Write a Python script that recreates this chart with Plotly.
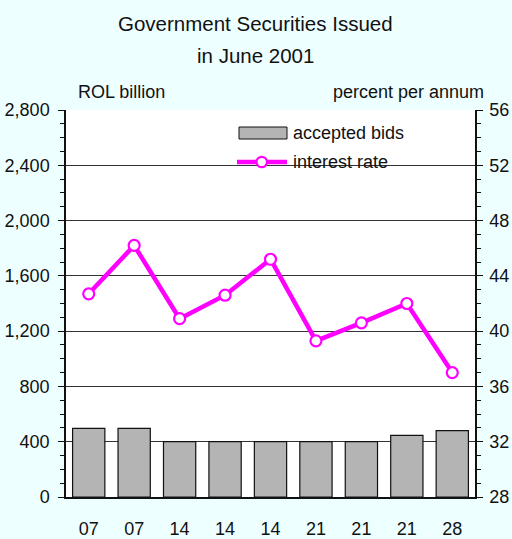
import plotly.graph_objects as go

# Auction dates (day of June 2001) for each issue
dates = ["07", "07", "14", "14", "14", "21", "21", "21", "28"]
# Accepted bids, ROL billion
accepted_bids = [497, 497, 400, 400, 400, 400, 400, 446, 480]
# Average interest rate, percent per annum
interest_rate = [42.7, 46.2, 40.9, 42.6, 45.2, 39.3, 40.6, 42.0, 37.0]

FONT = "Liberation Sans, Arial, sans-serif"
INK = "#111111"
MAGENTA = "#FF00FF"
BAR_FILL = "#B4B4B4"

W, H = 512, 539
ML, MR, MT, MB = 66, 37, 110, 42
PH = H - MT - MB
PW = W - ML - MR


def py(ypix):
    """Vertical pixel position -> paper coordinate."""
    return (H - MB - ypix) / PH


def px(xpix):
    """Horizontal pixel position -> paper coordinate."""
    return (xpix - ML) / PW


xs = list(range(len(dates)))

fig = go.Figure()
fig.add_trace(go.Bar(
    x=xs, y=accepted_bids, name="accepted bids",
    marker=dict(color=BAR_FILL, line=dict(color=INK, width=1.2)),
    yaxis="y", showlegend=False,
))
fig.add_trace(go.Scatter(
    x=xs, y=interest_rate, name="interest rate", mode="lines+markers",
    line=dict(color=MAGENTA, width=4.5),
    marker=dict(symbol="circle", size=11, color="white",
                line=dict(color=MAGENTA, width=2.2)),
    yaxis="y2", showlegend=False,
))

# Legend box: white backdrop that hides the gridline behind it
shapes = [
    dict(type="rect", xref="paper", yref="paper",
         x0=px(197), x1=px(441), y0=py(186), y1=py(114),
         fillcolor="white", line=dict(width=0), layer="between"),
    # key for the bars
    dict(type="rect", xref="paper", yref="paper",
         x0=px(239), x1=px(287), y0=py(139), y1=py(127),
         fillcolor=BAR_FILL, line=dict(color=INK, width=1), layer="above"),
    # key for the line
    dict(type="line", xref="paper", yref="paper",
         x0=px(237), x1=px(287), y0=py(162), y1=py(162),
         line=dict(color=MAGENTA, width=4.5), layer="above"),
    dict(type="circle", xref="paper", yref="paper",
         x0=px(256.5), x1=px(267), y0=py(167.2), y1=py(156.8),
         fillcolor="white", line=dict(color=MAGENTA, width=2.2),
         layer="above"),
]


def label(text, x, y, anchor="left", size=18):
    return dict(text=text, x=px(x), y=py(y), xref="paper", yref="paper",
                showarrow=False, xanchor=anchor, yanchor="middle",
                font=dict(size=size))


annotations = [
    label("Government Securities Issued", 255, 24, "center", 20.5),
    label("in June 2001", 255, 56, "center", 20.5),
    label("ROL billion", 76, 92),
    label("percent per annum", 486, 92, "right"),
    label("accepted bids", 291, 133),
    label("interest rate", 291, 162),
]

fig.update_layout(
    width=W, height=H,
    margin=dict(l=ML, r=MR, t=MT, b=MB, pad=0),
    paper_bgcolor="#EEFFFF",
    plot_bgcolor="white",
    font=dict(family=FONT, size=18, color=INK),
    showlegend=False,
    bargap=0.29,
    shapes=shapes,
    annotations=annotations,
    xaxis=dict(
        tickmode="array", tickvals=xs, ticktext=dates,
        range=[-0.5, len(dates) - 0.5], automargin=False,
        showline=True, linecolor=INK, linewidth=1.5,
        ticks="", showgrid=False, zeroline=False,
        ticklabelstandoff=15,
    ),
    yaxis=dict(
        range=[0, 2800], dtick=400, tickformat=",d", automargin=False,
        showline=True, linecolor=INK, linewidth=1.5,
        ticks="outside", ticklen=6, tickcolor=INK, tickwidth=1.2,
        minor=dict(dtick=100, ticks="outside", ticklen=4,
                   tickcolor=INK, tickwidth=1.2, showgrid=False),
        showgrid=True, gridcolor="#333333", gridwidth=1,
        zeroline=False, ticklabelstandoff=5,
    ),
    yaxis2=dict(
        range=[28, 56], dtick=4, overlaying="y", side="right",
        automargin=False,
        showline=True, linecolor=INK, linewidth=1.5,
        ticks="outside", ticklen=6, tickcolor=INK, tickwidth=1.2,
        minor=dict(dtick=1, ticks="outside", ticklen=4,
                   tickcolor=INK, tickwidth=1.2, showgrid=False),
        showgrid=False, zeroline=False, ticklabelstandoff=3,
    ),
)

fig.write_html("out.html")
